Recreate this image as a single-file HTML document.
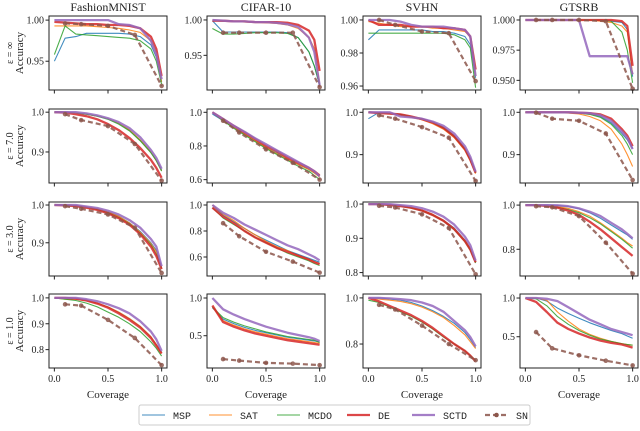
<!DOCTYPE html>
<html><head><meta charset="utf-8"><style>
body{margin:0;background:#fff;width:640px;height:426px;overflow:hidden}
svg text{font-family:"Liberation Serif",serif;fill:#222}
.mono{font-family:"Liberation Mono",monospace}
</style></head><body>
<svg id="chart" width="640" height="426" viewBox="0 0 640 426" xmlns="http://www.w3.org/2000/svg"></svg>
<script>
const datasets = ["FashionMNIST","CIFAR-10","SVHN","GTSRB"];
const epsLabels = ["ε = ∞","ε = 7.0","ε = 3.0","ε = 1.0"];
const seriesNames = ["MSP","SAT","MCDO","DE","SCTD","SN"];
const coverage = [0,.1,.2,.3,.4,.5,.6,.7,.8,.9,.95,1];
const snCoverage = [.1,.25,.5,.75,1];
const xTicks = [0,0.5,1];
const xTickLabels = ["0.0","0.5","1.0"];
// y domains [min,max] per row/col
const yDomains = [
 [[.915,1.005],[.901,1.0056],[.9576,1.0024],[.942,1.0033]],
 [[.822,1.008],[.58,1.0196],[.833,1.0078],[.833,1.0078]],
 [[.812,1.008],[.454,1.023],[.79,1.006],[.679,1.014]],
 [[.729,1.015],[.072,1.053],[.696,1.017],[.096,1.052]]
];
const yTicks = [
 [["1.00","0.95"],["1.00","0.95"],["1.00","0.98","0.96"],["1.000","0.975","0.950"]],
 [["1.0","0.9"],["1.0","0.8","0.6"],["1.0","0.9"],["1.0","0.9"]],
 [["1.0","0.9"],["1.0","0.8","0.6"],["1.0","0.9","0.8"],["1.0","0.8"]],
 [["1.0","0.9","0.8"],["1.0","0.5"],["1.0","0.8"],["1.0","0.5"]]
];
// series: MSP, SAT, MCDO, DE, SCTD (on coverage), SN (on snCoverage)
const fmInf = [[.95,.978,.98,.984,.984,.984,.984,.983,.98,.97,.955,.925],[.993,.993,.993,.993,.992,.991,.99,.988,.985,.975,.96,.925],[.958,.993,.983,.982,.981,.98,.979,.978,.975,.965,.95,.922],[.998,.997,.996,.995,.995,.994,.994,.993,.99,.98,.965,.932],[1,1,1,1,1,1,.995,.994,.99,.975,.958,.928],[.996,.995,.993,.982,.92]];
const cifInf = [[.999,.983,.983,.983,.983,.983,.983,.982,.975,.955,.935,.908],[.999,.998,.998,.997,.997,.996,.995,.993,.988,.975,.96,.91],[.988,.98,.98,.981,.982,.982,.982,.981,.975,.955,.935,.908],[.999,.999,.998,.998,.997,.997,.997,.996,.993,.985,.972,.928],[1,.999,.998,.998,.997,.997,.996,.994,.99,.975,.955,.908],[.982,.982,.982,.982,.905]];
const svhInf = [[.988,.994,.994,.994,.994,.994,.993,.993,.992,.99,.985,.965],[.999,.998,.997,.996,.996,.996,.995,.995,.994,.993,.99,.966],[.992,.992,.992,.992,.992,.992,.992,.992,.991,.988,.983,.959],[1,.997,.997,.997,.996,.996,.996,.995,.995,.994,.99,.97],[1,1,1,.999,.997,.996,.996,.996,.995,.994,.99,.966],[1,.997,.993,.992,.963]];
const gtsInf = [[1,1,1,1,1,1,1,1,.999,.998,.992,.953],[1,1,1,1,1,1,1,.999,.998,.995,.99,.955],[1,1,1,1,1,1,1,1,.999,.99,.975,.948],[1,1,1,1,1,1,1,1,1,.999,.995,.962],[1,1,1,1,1,1,.97,.97,.97,.97,.97,.955],[1,1,1,.999,.943]];
const fm7 = [[1,1,.998,.995,.99,.983,.972,.955,.93,.9,.88,.855],[1,1,.998,.995,.99,.983,.972,.955,.93,.9,.878,.853],[1,1,.998,.995,.99,.982,.97,.953,.928,.898,.878,.852],[1,.999,.995,.99,.982,.97,.955,.935,.91,.88,.86,.835],[1,1,1,.997,.992,.985,.975,.96,.937,.905,.885,.858],[.995,.98,.965,.92,.828]];
const cif7 = [[.99,.95,.91,.87,.83,.79,.76,.72,.69,.66,.64,.62],[1,.95,.91,.87,.83,.79,.755,.72,.69,.66,.64,.615],[1,.95,.905,.865,.825,.785,.75,.715,.68,.65,.625,.60],[1,.96,.92,.88,.84,.80,.77,.73,.70,.67,.65,.625],[1,.96,.92,.885,.845,.81,.775,.74,.705,.67,.65,.62],[.95,.88,.78,.70,.60]];
const svh7 = [[.985,1,.998,.995,.99,.985,.977,.965,.945,.915,.89,.86],[1,.998,.996,.993,.988,.982,.973,.96,.94,.91,.885,.855],[1,.999,.997,.995,.99,.984,.976,.963,.943,.913,.887,.857],[1,.998,.997,.995,.99,.984,.976,.963,.943,.913,.888,.857],[1,1,1,.99,.988,.985,.978,.968,.95,.92,.895,.86],[.993,.985,.965,.94,.838]];
const gts7 = [[1,1,1,1,.999,.998,.996,.99,.975,.95,.935,.915],[1,1,1,.999,.998,.996,.99,.98,.96,.925,.9,.872],[1,1,1,1,.999,.998,.995,.988,.972,.945,.925,.9],[1,1,1,1,1,.999,.998,.995,.985,.96,.945,.92],[1,1,1,1,1,.999,.998,.993,.98,.955,.94,.913],[.999,.985,.98,.95,.84]];
const fm3 = [[1,1,.998,.995,.99,.982,.97,.953,.93,.9,.88,.835],[1,1,.998,.995,.99,.982,.97,.952,.928,.898,.876,.834],[1,1,.998,.994,.988,.98,.967,.95,.925,.895,.87,.832],[1,.999,.997,.993,.987,.978,.965,.948,.923,.89,.865,.83],[1,1,1,.996,.992,.985,.975,.96,.94,.91,.89,.838],[.997,.99,.975,.94,.82]];
const cif3 = [[1,.92,.87,.82,.77,.73,.69,.65,.62,.59,.575,.56],[1,.93,.88,.82,.77,.72,.68,.65,.61,.58,.565,.55],[.98,.9,.85,.8,.75,.71,.67,.63,.6,.57,.55,.535],[.98,.91,.86,.8,.75,.71,.67,.64,.61,.58,.56,.545],[1,.94,.9,.85,.81,.77,.73,.69,.66,.62,.6,.575],[.86,.76,.64,.565,.48]];
const svh3 = [[1,1,.998,.995,.99,.982,.97,.953,.93,.895,.87,.83],[1,1,.998,.995,.99,.982,.97,.952,.928,.893,.868,.829],[1,1,.997,.994,.988,.98,.967,.95,.925,.89,.865,.828],[1,1,.997,.994,.989,.981,.968,.951,.927,.892,.867,.83],[1,1,1,.997,.994,.988,.978,.963,.94,.905,.88,.835],[.995,.99,.97,.93,.795]];
const gts3 = [[1,1,1,.998,.993,.983,.965,.94,.91,.88,.865,.845],[1,1,.998,.994,.985,.97,.95,.92,.885,.85,.83,.815],[1,1,.997,.99,.98,.965,.943,.915,.88,.845,.825,.805],[1,1,.996,.988,.975,.955,.925,.89,.85,.81,.79,.77],[1,1,1,.999,.995,.985,.97,.95,.92,.89,.87,.85],[.995,.99,.95,.83,.69]];
const fm1 = [[1,1,.998,.99,.98,.965,.945,.92,.89,.85,.82,.79],[1,.995,.995,.99,.98,.965,.945,.92,.89,.85,.82,.785],[1,.995,.99,.98,.965,.945,.925,.9,.87,.83,.805,.775],[1,1,.997,.99,.978,.962,.94,.915,.885,.845,.815,.785],[1,1,1,.995,.987,.975,.96,.94,.91,.87,.84,.795],[.975,.97,.915,.845,.74]];
const cif1 = [[.87,.72,.66,.61,.57,.54,.51,.48,.46,.44,.43,.42],[.88,.7,.64,.59,.55,.52,.49,.46,.44,.42,.41,.40],[.88,.74,.68,.63,.59,.55,.52,.49,.47,.45,.44,.41],[.9,.68,.62,.57,.53,.5,.47,.44,.42,.4,.39,.38],[1,.85,.78,.72,.67,.62,.58,.54,.51,.48,.46,.43],[.19,.17,.14,.13,.11]];
const svh1 = [[1,1,.995,.99,.98,.965,.945,.92,.89,.85,.82,.785],[1,.995,.99,.985,.975,.96,.94,.915,.88,.84,.81,.78],[.99,.98,.96,.94,.92,.895,.865,.83,.8,.77,.75,.73],[1,.985,.965,.945,.925,.9,.87,.835,.8,.77,.75,.725],[1,1,.998,.995,.99,.98,.965,.94,.9,.86,.83,.79],[.97,.95,.88,.8,.73]];
const gts1 = [[1,1,.96,.87,.8,.74,.68,.63,.58,.54,.51,.48],[1,1,.97,.82,.7,.6,.53,.48,.44,.41,.40,.39],[1,.99,.9,.76,.66,.58,.52,.47,.44,.41,.40,.39],[1,.95,.82,.68,.6,.54,.49,.45,.42,.4,.38,.36],[1,1,.99,.96,.88,.8,.72,.66,.6,.56,.54,.52],[.56,.35,.26,.19,.13]];
const panels = [[fmInf,cifInf,svhInf,gtsInf],[fm7,cif7,svh7,gts7],[fm3,cif3,svh3,gts3],[fm1,cif1,svh1,gts1]];

const colors = ["#1f77b4","#ff7f0e","#2ca02c","#d62728","#9467bd","#8c564b"];
const widths = [1.1,1.1,1.1,2.3,2.3,2.2];
const colX = [49,207,363,520], boxW = 118;
const rowY = [16,109,202,294], boxH = 74;
const svg = document.getElementById('chart');
const NS = "http://www.w3.org/2000/svg";
function mk(tag, attrs, parent){const e=document.createElementNS(NS,tag);for(const k in attrs)e.setAttribute(k,attrs[k]);(parent||svg).appendChild(e);return e;}

for(let r=0;r<4;r++){for(let c=0;c<4;c++){
  const x0=colX[c], y0=rowY[r];
  const [ymin,ymax]=yDomains[r][c];
  const sx=v=>x0+(v+0.05)/1.1*boxW;
  const sy=v=>y0+(ymax-v)/(ymax-ymin)*boxH;
  const g=mk('g',{});
  
  
  const cp='clip'+r+c;
  const cl=mk('clipPath',{id:cp},g); mk('rect',{x:x0,y:y0,width:boxW,height:boxH},cl);
  const data=panels[r][c];
  for(let s=0;s<6;s++){
    const xs = s<5?coverage:snCoverage;
    const pts = data[s].map((v,i)=>sx(xs[i]).toFixed(1)+','+sy(v).toFixed(1)).join(' ');
    const pl=mk('polyline',{points:pts,fill:'none',stroke:colors[s],'stroke-width':widths[s],'stroke-opacity':s<5?0.85:0.85,'clip-path':'url(#'+cp+')','stroke-linejoin':'round'},g);
    if(s===5) pl.setAttribute('stroke-dasharray','5,3');
    
    
    if(s===5){data[s].forEach((v,i)=>{const m=mk('circle',{cx:sx(xs[i]),cy:sy(v),r:2.3,fill:colors[5],'fill-opacity':0.85},g);
      
      });}
  }
  const box=mk('rect',{x:x0,y:y0,width:boxW,height:boxH,fill:'none',stroke:'#222','stroke-width':1},g);
  
  
  xTicks.forEach((t,i)=>{const X=sx(t);mk('line',{x1:X,x2:X,y1:y0+boxH,y2:y0+boxH+3.5,stroke:'#222'},g);
    if(r===3){const tx=mk('text',{x:X,y:y0+boxH+14,'font-size':10,'text-anchor':'middle'},g);tx.textContent=xTickLabels[i];
      
      }});
  yTicks[r][c].forEach(t=>{const Y=sy(parseFloat(t));mk('line',{x1:x0-3.5,x2:x0,y1:Y,y2:Y,stroke:'#222'},g);
    const ty=mk('text',{x:x0-5,y:Y+3.5,'font-size':10,'text-anchor':'end'},g);ty.textContent=t;
    
    });
  if(r===0){const tt=mk('text',{x:x0+boxW/2,y:11,'font-size':12,'text-anchor':'middle'},g);tt.textContent=datasets[c];
    
    }
  if(r===3){const xl=mk('text',{x:x0+boxW/2,y:398,'font-size':11,'text-anchor':'middle'},g);xl.textContent='Coverage';
    
    }
  if(c===0){const cy=y0+boxH/2;
    const a=mk('text',{x:0,y:0,'font-size':10,'text-anchor':'middle',transform:`translate(13,${cy}) rotate(-90)`},g);a.textContent=epsLabels[r];
    
    
    const b=mk('text',{x:0,y:0,'font-size':11,'text-anchor':'middle',transform:`translate(23,${cy}) rotate(-90)`},g);b.textContent='Accuracy';
    
    }
}}
// legend
const lg=mk('g',{});


mk('rect',{x:139,y:405,width:391,height:20,rx:2,fill:'#fff',stroke:'#ccc'},lg);
const legX=[142,209,277,347,412,485];
seriesNames.forEach((n,i)=>{const e=mk('g',{},lg);
  
  
  const l=mk('line',{x1:legX[i],x2:legX[i]+23,y1:415,y2:415,stroke:colors[i],'stroke-width':widths[i],'stroke-opacity':0.85},e);
  if(i===5){l.setAttribute('stroke-dasharray','5,3');mk('circle',{cx:legX[i]+11.5,cy:415,r:2.3,fill:colors[5]},e);}
  const t=mk('text',{x:legX[i]+31,y:419,'font-size':10,class:'mono'},e);t.textContent=n;});
</script>
</body></html>
